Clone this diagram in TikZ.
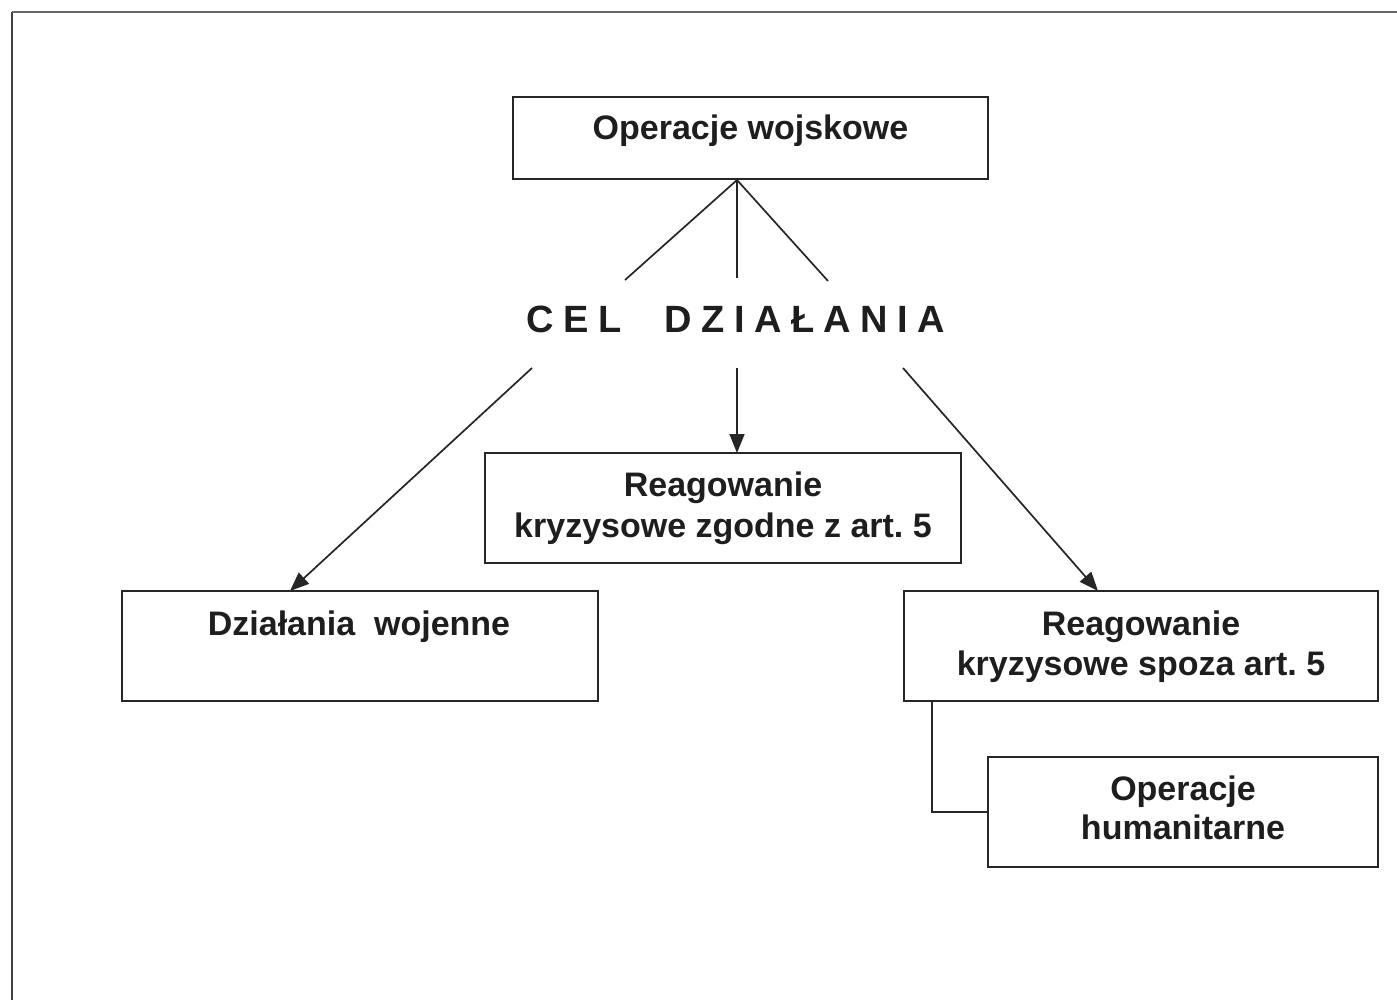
\documentclass[tikz,border=0pt]{standalone}
\usepackage{fontspec}
\setmainfont{Liberation Sans}
\usetikzlibrary{arrows.meta}
\definecolor{ink}{HTML}{1E1E1E}
\definecolor{rule}{HTML}{262626}
\begin{document}
\begin{tikzpicture}[x=1pt,y=-1pt,
  box/.style={draw=rule,line width=2.2pt,rectangle,inner sep=0pt},
  txt/.style={anchor=base,inner sep=0pt,text=ink,font=\fontsize{34}{40}\selectfont\bfseries},
  head/.style={anchor=base,inner sep=0pt,text=ink,font=\fontsize{38}{44}\selectfont\bfseries},
  link/.style={draw=rule,line width=1.7pt},
  arr/.style={link,-{Triangle[length=19pt,width=15pt]}}]
\useasboundingbox (0,0) rectangle (1397,1000);
\fill[white] (0,0) rectangle (1397,1000);
% page frame
\draw[line width=2.6pt,draw=black!75] (12,1000) -- (12,12);
\draw[line width=2.4pt,draw=black!60] (12,12) -- (1397,12);

% boxes
\node[box,minimum width=475pt,minimum height=82pt] (top) at (750.5,138) {};
\node[box,minimum width=476pt,minimum height=110pt] (mid) at (723,508) {};
\node[box,minimum width=476pt,minimum height=110pt] (left) at (360,646) {};
\node[box,minimum width=474pt,minimum height=110pt] (right) at (1141,646) {};
\node[box,minimum width=390pt,minimum height=110pt] (hum) at (1183,812) {};

% texts
\node[txt] (topA) at (750.5,140) {Operacje wojskowe};
\node[txt] (midA) at (723,496) {Reagowanie};
\node[txt] (midB) at (723,537) {kryzysowe zgodne z art.~5};
\node[txt] (leftA) at (359,635) {Działania\ \ wojenne};
\node[txt] (rightA) at (1141,635) {Reagowanie};
\node[txt] (rightB) at (1141,675) {kryzysowe spoza art.~5};
\node[txt] (humA) at (1183,800) {Operacje};
\node[txt] (humB) at (1183,839) {humanitarne};
\node[head] (cel) at (736,332) {C\kern9.5pt E\kern9.5pt L\kern43pt D\kern9.5pt Z\kern9.5pt I\kern9.5pt A\kern9.5pt Ł\kern9.5pt A\kern9.5pt N\kern9.5pt I\kern9.5pt A};

% connector points
\coordinate (apex) at (737,180);
\coordinate (inL) at (625,280);
\coordinate (inC) at (737,278);
\coordinate (inR) at (828,281);
\coordinate (outL) at (532,368);
\coordinate (outC) at (737,368);
\coordinate (outR) at (903,368);
\coordinate (tipL) at (290,591);
\coordinate (tipC) at (737,453);
\coordinate (tipR) at (1098,591);
\coordinate (rfoot) at (932,701);

% connectors
\draw[link] (apex) -- (inL);
\draw[link] (apex) -- (inC);
\draw[link] (apex) -- (inR);
\draw[arr] (outL) -- (tipL);
\draw[arr] (outC) -- (tipC);
\draw[arr] (outR) -- (tipR);
\draw[link,line width=2.2pt] (rfoot) |- (hum.west);
\end{tikzpicture}
\end{document}
